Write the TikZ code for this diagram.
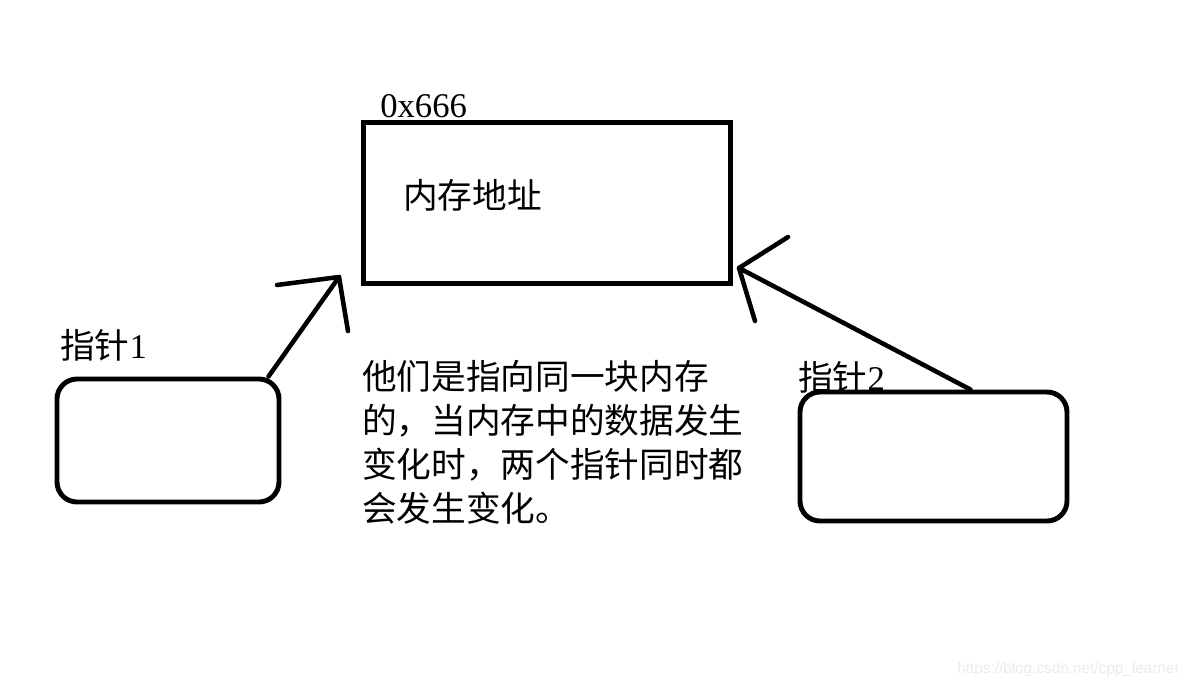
\documentclass[tikz,border=0pt]{standalone}
\usepackage{fontspec}
\setmainfont{Liberation Serif}
\setsansfont{Liberation Sans}
\newfontfamily\cjk{Noto Sans CJK SC}
\usetikzlibrary{calc}
\begin{document}
\begin{tikzpicture}[x=0.75pt,y=-0.75pt,
  box/.style={draw, line width=3.7pt, inner sep=0pt},
  rbox/.style={box, rounded corners=15pt},
  stroke/.style={line width=3.4pt, line cap=round, line join=round},
  lbl/.style={inner sep=0pt, anchor=west, font=\fontsize{26}{30}\selectfont}]
\useasboundingbox (0,0) rectangle (1190,687);
\fill[white] (0,0) rectangle (1190,687);
% boxes
\node[box, minimum width=275.25pt, minimum height=120.75pt] (mem) at (547,203) {};
\node[rbox, minimum width=166.5pt, minimum height=92.25pt] (p1) at (168,440.5) {};
\node[rbox, minimum width=200.25pt, minimum height=96.75pt] (p2) at (933.5,456.5) {};
% labels
\node[lbl] (addr) at (380,106) {0x666};
\node[lbl] (memlbl) at (403,195) {\cjk 内存地址};
\node[lbl] (l1) at (60,345) {{\cjk 指针}1};
\node[lbl] (l2) at (798,377) {{\cjk 指针}2};
\node[lbl, align=left, anchor=north west, font=\cjk\fontsize{26}{33}\selectfont] (desc) at (362,360)
  {他们是指向同一块内存\\的，当内存中的数据发生\\变化时，两个指针同时都\\会发生变化。};
\node[anchor=south east, inner sep=0pt, text=black!8, font=\sffamily\fontsize{11.5}{13}\selectfont] (wm) at (1180,677) {https://blog.csdn.net/cpp\_learner};
% arrow 1
\coordinate (t1) at (339,277);
\coordinate (h1a) at (277,285);
\coordinate (h1b) at (348,331);
\draw[stroke] ($(p1.north east)+(-13,0)$) -- (t1);
\draw[stroke] (h1a) -- (t1) -- (h1b);
% arrow 2
\coordinate (t2) at (739,268);
\coordinate (h2a) at (788,237);
\coordinate (h2b) at (755,321);
\draw[stroke] ($(p2.north east)+(-99,0)$) -- (t2);
\draw[stroke] (h2a) -- (t2) -- (h2b);
\end{tikzpicture}
\end{document}
